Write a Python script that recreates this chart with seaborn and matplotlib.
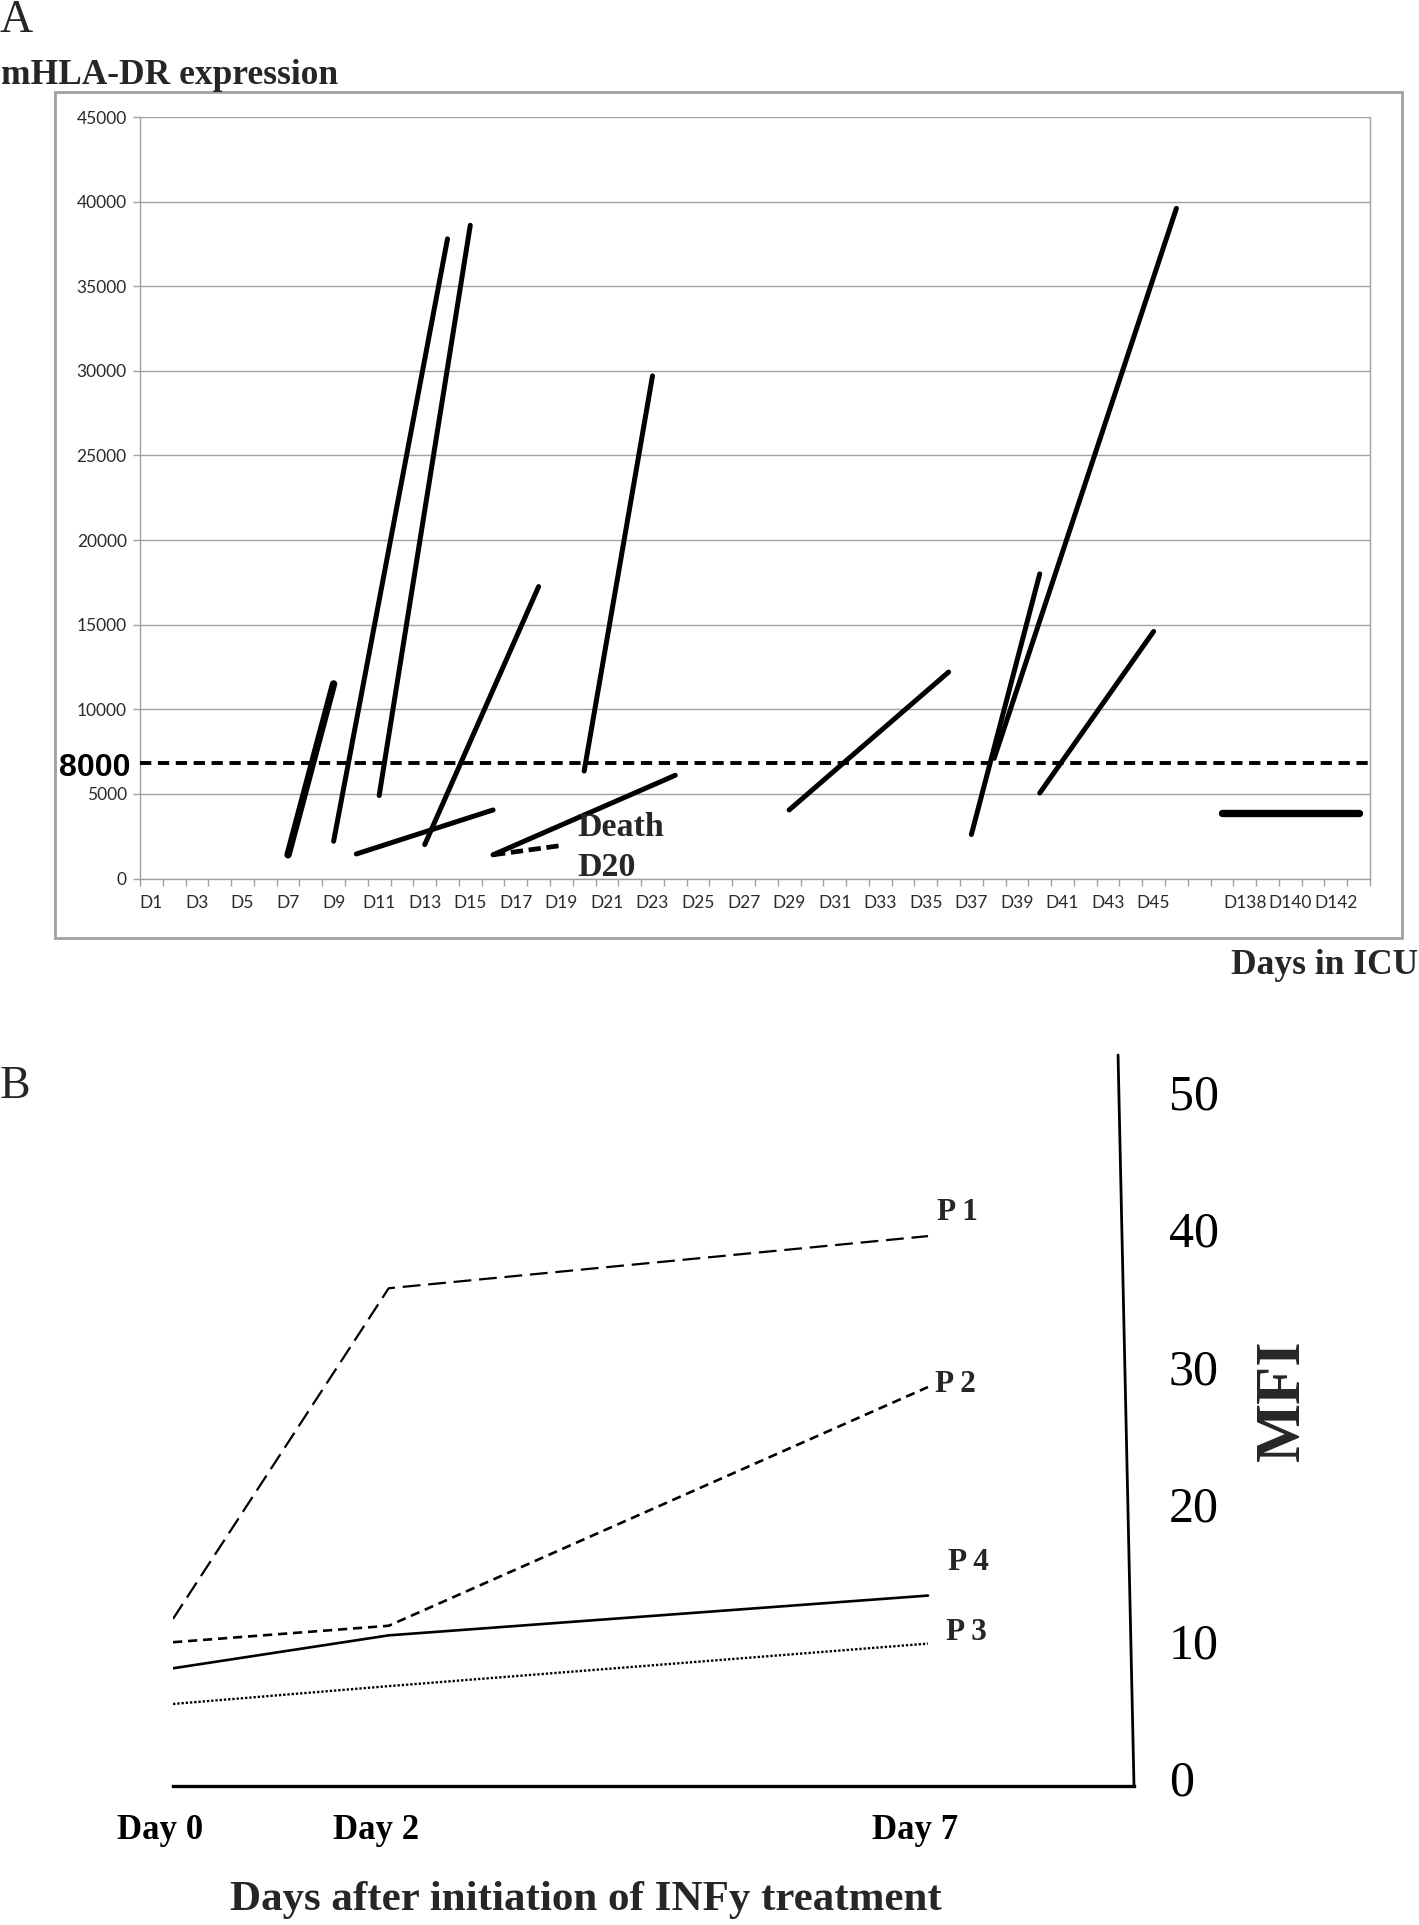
import numpy as np
import pandas as pd
import seaborn as sns
import matplotlib.pyplot as plt
from matplotlib.patches import Rectangle
from matplotlib.lines import Line2D
from matplotlib.transforms import ScaledTranslation, blended_transform_factory

sns.set_theme(style='white')
plt.rcParams['font.family'] = ['Liberation Serif', 'DejaVu Serif']

# ---- Panel A data: mHLA-DR expression segments (days in ICU) ----
day_categories = [f'D{d}' for d in range(1, 47)] + [''] + [f'D{d}' for d in range(137, 144)]
seg_start_day = ['D7', 'D9', 'D11', 'D10', 'D13', 'D16', 'D16', 'D20', 'D29', 'D37', 'D38', 'D40', 'D137']
seg_start_val = [1400, 2200, 4900, 1450, 2000, 1400, 1400, 6350, 4050, 2600, 7100, 5050, 3900]
seg_end_day = ['D9', 'D14', 'D15', 'D16', 'D18', 'D24', 'D19', 'D23', 'D36', 'D40', 'D46', 'D45', 'D143']
seg_end_val = [11500, 37800, 38600, 4050, 17250, 6100, 1950, 29700, 12200, 18000, 39600, 14600, 3900]
seg_kind = ['thick', 'normal', 'normal', 'normal', 'normal', 'normal', 'death',
            'normal', 'normal', 'normal', 'normal', 'normal', 'thick']
threshold_value = 6800
threshold_label = '8000'
y_ticks_a = list(range(0, 45001, 5000))

# ---- Panel B data: MFI after INFy ----
days_b = [0, 2, 7]
day_labels_b = ['Day 0', 'Day 2', 'Day 7']
patients = ['P 1', 'P 2', 'P 3', 'P 4']
p1 = [11.6, 35.7, 39.5]
p2 = [9.9, 11.1, 28.5]
p3 = [5.4, 6.7, 9.8]
p4 = [8.0, 10.4, 13.3]
mfi_ticks = [0, 10, 20, 30, 40, 50]

W, H = 1419, 1925


def fx(px):
    return px / W


def fy(py):
    return 1 - py / H


fig = plt.figure(figsize=(W / 100, H / 100), dpi=100)

# ================= Panel A =================
ax_a = fig.add_axes([fx(140), fy(878.5), fx(1370) - fx(140), fy(117) - fy(878.5)])

pos = {lab: i for i, lab in enumerate(day_categories) if lab}
rows = []
for k in range(len(seg_kind)):
    rows.append((k, pos[seg_start_day[k]], seg_start_val[k], seg_kind[k]))
    rows.append((k, pos[seg_end_day[k]], seg_end_val[k], seg_kind[k]))
df_a = pd.DataFrame(rows, columns=['seg', 'x', 'value', 'kind'])

styles = {'normal': (3.6, '-'), 'thick': (5.3, '-'), 'death': (3.4, (0, (2.6, 1.2)))}
for kind, (lw, ls) in styles.items():
    sub = df_a[df_a['kind'] == kind]
    sns.lineplot(data=sub, x='x', y='value', units='seg', estimator=None, sort=False,
                 color='black', linewidth=lw, linestyle=ls, solid_capstyle='round',
                 legend=False, ax=ax_a, zorder=3)

ax_a.axhline(threshold_value, color='black', lw=2.8, ls=(0, (2.9, 1.7)), zorder=4)

ax_a.set_xlim(-0.5, len(day_categories) - 0.5)
ax_a.set_ylim(0, 45000)
ax_a.set_yticks(y_ticks_a)
ax_a.set_yticklabels([str(v) for v in y_ticks_a])
major_x = [i for i, lab in enumerate(day_categories) if i % 2 == 0]
ax_a.set_xticks(major_x)
ax_a.set_xticklabels([day_categories[i] for i in major_x])
ax_a.set_xticks(np.arange(-0.5, len(day_categories), 1.0), minor=True)
ax_a.set_xlabel('')
ax_a.set_ylabel('')
ax_a.grid(axis='y', color='#a0a0a0', lw=1.0)
ax_a.grid(axis='x', visible=False)
ax_a.set_axisbelow(True)
for side in ['left', 'right', 'bottom']:
    ax_a.spines[side].set_color('#a0a0a0')
    ax_a.spines[side].set_linewidth(1.0)
ax_a.spines['top'].set_visible(False)

tick_font = ['Lato', 'DejaVu Sans']
ax_a.tick_params(axis='y', which='major', left=True, length=5, width=1, color='#a0a0a0',
                 pad=4.5, labelsize=12.5, labelcolor='#2b2b2b')
ax_a.tick_params(axis='x', which='major', bottom=True, length=0, pad=12, labelsize=12.5, labelcolor='#2b2b2b')
ax_a.tick_params(axis='x', which='minor', bottom=True, length=5, width=1, color='#a0a0a0')
for lab in ax_a.get_xticklabels() + ax_a.get_yticklabels():
    lab.set_fontfamily(tick_font)

trans = blended_transform_factory(ax_a.transAxes, ax_a.transData)
ax_a.text(-0.008, threshold_value - 250, threshold_label, transform=trans, ha='right', va='center',
          fontfamily=['Liberation Sans', 'DejaVu Sans'], fontweight='bold', fontsize=23, color='black')

fig.patches.append(Rectangle((fx(55), fy(938)), fx(1402) - fx(55), fy(92) - fy(938),
                             transform=fig.transFigure, fill=False, edgecolor='#a0a0a0', lw=2))

fig.text(fx(0), fy(21), 'A', fontsize=33, ha='left', va='center')
fig.text(fx(1), fy(75), 'mHLA-DR expression', fontsize=25.5, fontweight='bold', ha='left', va='center')
fig.text(fx(1418), fy(966), 'Days in ICU', fontsize=25.5, fontweight='bold', ha='right', va='center')
fig.text(fx(577), fy(827), 'Death', fontsize=24.5, fontweight='bold', ha='left', va='center')
fig.text(fx(577), fy(868), 'D20', fontsize=24.5, fontweight='bold', ha='left', va='center')

# ================= Panel B =================
ax_b = fig.add_axes([fx(173), fy(1786), fx(1134) - fx(173), fy(1055) - fy(1786)])

df_b = pd.DataFrame({'day': days_b * 4, 'mfi': p1 + p2 + p3 + p4,
                     'patient': np.repeat(patients, len(days_b))})
b_styles = {'P 1': (1.6, (0, (8, 3.5))), 'P 2': (1.9, (0, (3.5, 2.2))),
            'P 3': (1.7, (0, (1, 0.8))), 'P 4': (1.9, '-')}
for p in patients:
    lw, ls = b_styles[p]
    sns.lineplot(data=df_b[df_b['patient'] == p], x='day', y='mfi', color='black',
                 linewidth=lw, linestyle=ls, legend=False, ax=ax_b)

ax_b.set_xlim(0, 8.91)
ax_b.set_ylim(-0.58, 52.7)
ax_b.set_xlabel('')
ax_b.set_ylabel('')
ax_b.grid(False)
for side in ['left', 'top', 'right']:
    ax_b.spines[side].set_visible(False)
ax_b.spines['bottom'].set_color('black')
ax_b.spines['bottom'].set_linewidth(2.4)
ax_b.add_line(Line2D([0.9834, 1.0], [1.0, 0.0], transform=ax_b.transAxes, color='black',
                     lw=2.0, clip_on=False))

ax_b.set_xticks(days_b)
ax_b.set_xticklabels(day_labels_b, fontweight='bold')
ax_b.tick_params(axis='x', length=0, pad=20, labelsize=25, labelcolor='black')
ax_b.yaxis.tick_right()
ax_b.set_yticks(mfi_ticks)
ax_b.set_yticklabels([str(v) for v in mfi_ticks])
ax_b.tick_params(axis='y', length=0, pad=25, labelsize=36, labelcolor='black')
shift = ScaledTranslation(-13 / 100, 0, fig.dpi_scale_trans)
for lab in ax_b.get_xticklabels():
    lab.set_transform(lab.get_transform() + shift)

label_pos = {'P 1': (937, 1212), 'P 2': (935, 1385), 'P 4': (948, 1562), 'P 3': (946, 1632)}
for p, (px, py) in label_pos.items():
    fig.text(fx(px), fy(py), p, fontsize=22.5, fontweight='bold', ha='left', va='center')

fig.text(fx(1284), fy(1400), 'MFI', fontsize=45, fontweight='bold', rotation=90, ha='center', va='center')
fig.text(fx(586), fy(1900), 'Days after initiation of INFy treatment', fontsize=31,
         fontweight='bold', ha='center', va='center')
fig.text(fx(0), fy(1087), 'B', fontsize=33, ha='left', va='center')

fig.savefig('out.png', dpi=100)
